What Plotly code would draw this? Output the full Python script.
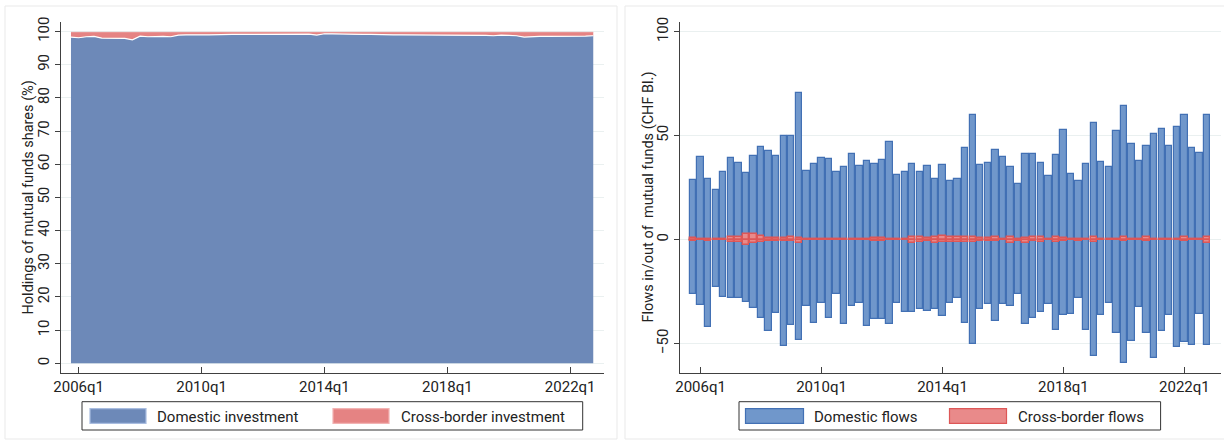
import plotly.graph_objects as go

# ---- data -------------------------------------------------------------
quarters = [
    "2005q4",
    "2006q1", "2006q2", "2006q3", "2006q4",
    "2007q1", "2007q2", "2007q3", "2007q4",
    "2008q1", "2008q2", "2008q3", "2008q4",
    "2009q1", "2009q2", "2009q3", "2009q4",
    "2010q1", "2010q2", "2010q3", "2010q4",
    "2011q1", "2011q2", "2011q3", "2011q4",
    "2012q1", "2012q2", "2012q3", "2012q4",
    "2013q1", "2013q2", "2013q3", "2013q4",
    "2014q1", "2014q2", "2014q3", "2014q4",
    "2015q1", "2015q2", "2015q3", "2015q4",
    "2016q1", "2016q2", "2016q3", "2016q4",
    "2017q1", "2017q2", "2017q3", "2017q4",
    "2018q1", "2018q2", "2018q3", "2018q4",
    "2019q1", "2019q2", "2019q3", "2019q4",
    "2020q1", "2020q2", "2020q3", "2020q4",
    "2021q1", "2021q2", "2021q3", "2021q4",
    "2022q1", "2022q2", "2022q3", "2022q4",
]
x_ticks = ["2006q1", "2010q1", "2014q1", "2018q1", "2022q1"]

# Holdings of mutual fund shares (%)
domestic_share = [
    98.3,
    98.1, 98.4, 98.5, 98.0,
    98.0, 98.1, 97.9, 97.5,
    98.6, 98.4, 98.5, 98.5,
    98.4, 98.9, 99.0, 98.9,
    99.0, 99.0, 99.1, 99.1,
    99.1, 99.1, 99.1, 99.2,
    99.2, 99.2, 99.2, 99.3,
    99.3, 99.3, 99.2, 98.9,
    99.3, 99.3, 99.2, 99.1,
    99.0, 99.1, 99.1, 99.0,
    99.0, 99.0, 99.0, 99.0,
    99.0, 98.9, 98.8, 98.9,
    98.9, 98.9, 99.0, 99.0,
    98.9, 98.8, 98.7, 98.9,
    98.8, 98.7, 98.3, 98.5,
    98.5, 98.5, 98.5, 98.5,
    98.4, 98.5, 98.6, 98.7,
]
crossborder_share = [
    1.45,
    1.65, 1.35, 1.25, 1.75,
    1.75, 1.65, 1.85, 2.25,
    1.15, 1.35, 1.25, 1.25,
    1.35, 0.85, 0.75, 0.85,
    0.75, 0.75, 0.65, 0.65,
    0.65, 0.65, 0.65, 0.55,
    0.55, 0.55, 0.55, 0.45,
    0.45, 0.45, 0.55, 0.85,
    0.45, 0.45, 0.55, 0.65,
    0.75, 0.65, 0.65, 0.75,
    0.75, 0.75, 0.75, 0.75,
    0.75, 0.85, 0.95, 0.85,
    0.85, 0.85, 0.75, 0.75,
    0.85, 0.95, 1.05, 0.85,
    0.95, 1.05, 1.45, 1.25,
    1.25, 1.25, 1.25, 1.25,
    1.35, 1.25, 1.15, 1.05,
]

# Flows in/out of mutual funds (CHF bn)
domestic_in = [
    28.5,
    39.6, 29.0, 24.0, 32.4,
    39.1, 36.7, 31.9, 40.1,
    44.7, 42.8, 40.1, 49.7,
    50.0, 70.4, 33.2, 36.5,
    39.1, 38.6, 32.4, 34.8,
    41.0, 35.3, 37.7, 36.2,
    38.1, 46.8, 30.9, 32.4,
    36.2, 32.7, 35.6, 29.0,
    35.7, 28.0, 29.0, 44.0,
    59.8, 36.1, 37.0, 43.3,
    39.6, 34.9, 26.9, 41.3,
    41.2, 36.7, 30.4, 40.9,
    52.6, 31.3, 28.0, 36.2,
    56.2, 37.5, 35.1, 52.1,
    64.4, 46.2, 38.0, 45.2,
    50.6, 53.0, 45.2, 54.0,
    60.1, 43.8, 41.8, 59.8,
]
domestic_out = [
    -26.0,
    -31.4, -42.0, -22.8, -27.7,
    -28.2, -27.9, -30.1, -33.0,
    -37.8, -44.1, -35.1, -51.3,
    -41.2, -48.4, -32.1, -40.1,
    -30.3, -37.5, -26.3, -40.7,
    -32.1, -30.3, -41.7, -38.3,
    -38.3, -40.7, -30.3, -34.9,
    -34.9, -33.2, -34.3, -33.5,
    -36.9, -30.6, -28.2, -40.1,
    -50.2, -33.5, -31.1, -39.3,
    -30.9, -31.9, -26.3, -40.5,
    -37.5, -34.8, -31.1, -43.3,
    -36.4, -35.7, -27.9, -43.4,
    -55.9, -36.4, -30.4, -45.0,
    -59.3, -48.6, -32.5, -45.0,
    -56.9, -44.1, -36.4, -51.8,
    -49.2, -50.8, -35.7, -50.8,
]
crossborder_in = [
    0.6,
    0.5, 0.3, 0.4, 0.4,
    1.1, 1.1, 2.7, 2.5,
    1.6, 0.8, 0.9, 0.6,
    1.1, 0.6, 0.4, 0.4,
    0.4, 0.4, 0.4, 0.4,
    0.4, 0.4, 0.4, 0.8,
    0.8, 0.4, 0.4, 0.4,
    1.0, 1.3, 0.8, 1.1,
    1.8, 1.0, 1.0, 1.4,
    1.3, 0.6, 0.6, 1.1,
    0.4, 1.3, 0.5, 0.8,
    1.4, 1.3, 0.4, 1.3,
    0.6, 0.4, 0.5, 0.4,
    1.3, 0.4, 0.4, 0.4,
    1.3, 0.4, 0.4, 1.3,
    0.4, 0.4, 0.4, 0.4,
    1.3, 0.4, 0.4, 1.0,
]
crossborder_out = [
    -0.5,
    -0.4, -0.6, -0.4, -0.4,
    -1.0, -1.3, -2.6, -1.5,
    -1.3, -0.6, -0.6, -0.8,
    -0.8, -1.5, -0.4, -0.4,
    -0.4, -0.4, -0.4, -0.4,
    -0.4, -0.4, -0.4, -0.8,
    -0.8, -0.4, -0.4, -0.4,
    -1.6, -1.4, -0.8, -1.9,
    -1.1, -1.4, -1.0, -1.4,
    -1.4, -0.6, -0.9, -0.8,
    -0.4, -1.8, -0.5, -1.9,
    -0.8, -1.4, -0.4, -1.0,
    -0.5, -0.4, -0.5, -0.4,
    -1.0, -0.4, -0.4, -0.4,
    -0.8, -0.4, -0.4, -0.6,
    -0.4, -0.4, -0.4, -0.4,
    -0.8, -0.4, -0.4, -1.6,
]

# ---- styling ----------------------------------------------------------
W, H = 1224, 445
FONT = "Roboto"
TXT = "#222222"
AXIS = "#404040"
GRID = "#eaf0f0"
AREA_BLUE = "#6d89b8"
AREA_RED = "#e58383"
BAR_BLUE = "#7097cb"
BAR_BLUE_EDGE = "#4270b4"
BAR_RED = "#e98a8a"
BAR_RED_EDGE = "#dd5757"


def px(x):
    return x / W


def py(y):
    return 1 - y / H


fig = go.Figure()

# left panel: stacked shares
fig.add_trace(go.Scatter(
    x=quarters, y=domestic_share, stackgroup="hold", mode="lines",
    line=dict(color="white", width=1.2), fillcolor=AREA_BLUE,
    name="Domestic investment", xaxis="x", yaxis="y", showlegend=False,
))
fig.add_trace(go.Scatter(
    x=quarters, y=crossborder_share, stackgroup="hold", mode="lines",
    line=dict(color=AREA_RED, width=0.5), fillcolor=AREA_RED,
    name="Cross-border investment", xaxis="x", yaxis="y", showlegend=False,
))

# right panel: inflows (positive) and outflows (negative) from zero
for vals in (domestic_in, domestic_out):
    fig.add_trace(go.Bar(
        x=quarters, y=vals, width=0.84, xaxis="x2", yaxis="y2",
        marker=dict(color=BAR_BLUE, line=dict(color=BAR_BLUE_EDGE, width=1.2)),
        name="Domestic flows", showlegend=False,
    ))
for vals in (crossborder_in, crossborder_out):
    fig.add_trace(go.Bar(
        x=quarters, y=vals, width=0.84, xaxis="x2", yaxis="y2",
        marker=dict(color=BAR_RED, line=dict(color=BAR_RED_EDGE, width=1.4)),
        name="Cross-border flows", showlegend=False,
    ))

ydom = [py(373), py(22)]
xcommon = dict(
    type="category", tickmode="array", tickvals=x_ticks, ticktext=x_ticks,
    ticks="inside", ticklen=6, tickwidth=1.2, tickcolor=AXIS,
    showline=True, linecolor=AXIS, linewidth=1.4, showgrid=False,
    zeroline=False, tickfont=dict(family=FONT, size=15, color=TXT),
    automargin=False, fixedrange=True,
)
ycommon = dict(
    ticks="outside", ticklen=5, tickwidth=1.2, tickcolor=AXIS,
    showline=True, linecolor=AXIS, linewidth=1.4, showgrid=True,
    gridcolor=GRID, gridwidth=1, zeroline=False, tickangle=-90,
    tickfont=dict(family=FONT, size=15, color=TXT), automargin=False,
    domain=ydom, fixedrange=True,
)

fig.update_layout(
    width=W, height=H,
    margin=dict(l=0, r=0, t=0, b=0),
    paper_bgcolor="white", plot_bgcolor="white",
    barmode="overlay", bargap=0,
    showlegend=False,
    xaxis=dict(xcommon, domain=[px(61), px(604)], range=[-1.3, 69.4], anchor="y"),
    yaxis=dict(ycommon, range=[-2.9, 102.85], tickvals=list(range(0, 101, 10)),
               anchor="x"),
    xaxis2=dict(xcommon, domain=[px(680), px(1221)], range=[-1.72, 69.84],
                anchor="y2"),
    yaxis2=dict(ycommon, range=[-64.2, 104.65], tickvals=[-50, 0, 50, 100],
                anchor="x2"),
)

shapes = []
annotations = []

# panel frames
shapes.append(dict(type="rect", xref="paper", yref="paper",
                   x0=px(5), x1=px(617), y0=py(439), y1=py(6),
                   line=dict(color="#e9e9e9", width=1), layer="below"))
shapes.append(dict(type="rect", xref="paper", yref="paper",
                   x0=px(625), x1=px(1230), y0=py(439), y1=py(6),
                   line=dict(color="#e9e9e9", width=1), layer="below"))

# axis titles
ymid = (ydom[0] + ydom[1]) / 2
for xc, label in ((28, "Holdings of mutual funds shares (%)"),
                  (648, "Flows in/out of  mutual funds (CHF Bl.)")):
    annotations.append(dict(
        text=label, x=px(xc), y=ymid, xref="paper", yref="paper",
        textangle=-90, showarrow=False, xanchor="center", yanchor="middle",
        font=dict(family=FONT, size=14.5, color=TXT),
    ))


# legends drawn as framed keys under each panel
def add_legend(box, entries):
    bx0, bx1 = box
    shapes.append(dict(type="rect", xref="paper", yref="paper",
                       x0=px(bx0), x1=px(bx1), y0=py(430), y1=py(401.7),
                       line=dict(color="#333333", width=1),
                       fillcolor="white"))
    for sx0, sx1, fill, edge, tx, label in entries:
        shapes.append(dict(type="rect", xref="paper", yref="paper",
                           x0=px(sx0), x1=px(sx1), y0=py(423.3), y1=py(408.7),
                           line=dict(color=edge, width=1.2), fillcolor=fill))
        annotations.append(dict(
            text=label, x=px(tx), y=py(416.5), xref="paper", yref="paper",
            showarrow=False, xanchor="left", yanchor="middle",
            font=dict(family=FONT, size=15, color=TXT),
        ))


add_legend((82, 582.7), [
    (90, 146, AREA_BLUE, "#a9bde0", 155, "Domestic investment"),
    (333, 389, AREA_RED, "#f2b3b3", 398.5, "Cross-border investment"),
])
add_legend((739, 1160.6), [
    (745.5, 803.5, BAR_BLUE, BAR_BLUE_EDGE, 812, "Domestic flows"),
    (949.5, 1006.5, BAR_RED, BAR_RED_EDGE, 1016, "Cross-border flows"),
])

fig.update_layout(shapes=shapes, annotations=annotations)

fig.write_html("out.html")
